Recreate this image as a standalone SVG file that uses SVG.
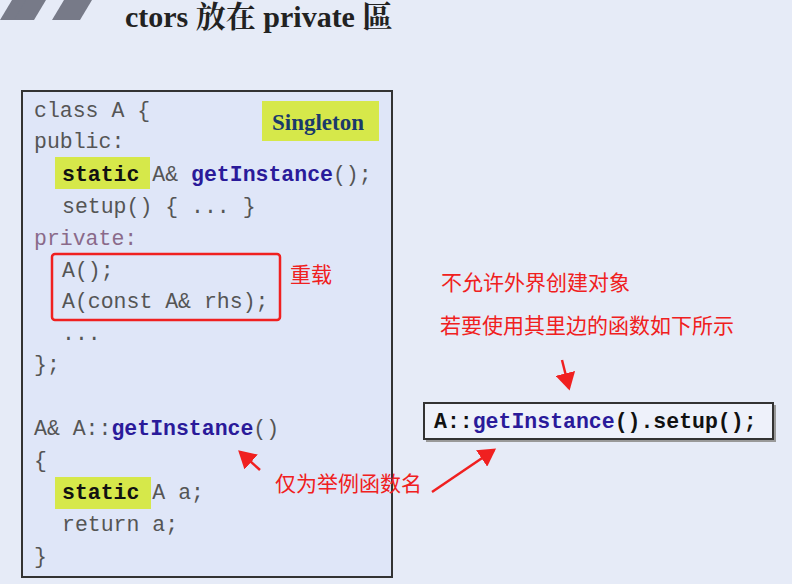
<svg xmlns="http://www.w3.org/2000/svg" width="792" height="584" viewBox="0 0 792 584">
<style>
.c{font-family:"Liberation Mono",monospace;font-size:21.5px;fill:#555}
.b{font-weight:bold;fill:#111}
.f{font-weight:bold;fill:#2a1a9a}
.p{fill:#8a6a8a}
.r{font-family:"Noto Sans CJK SC",sans-serif;fill:#f02020;font-size:21px}
.hl{fill:#d6e84a}
.arr{stroke:#f02020;stroke-width:2.5;fill:none;marker-end:url(#ah)}
</style>
<defs><marker id="ah" markerWidth="8" markerHeight="8" refX="6" refY="4" orient="auto" markerUnits="strokeWidth"><path d="M0,0 L7,4 L0,8 Z" fill="#f02020"/></marker></defs>
<rect width="792" height="584" fill="#e6ebf7"/>
<g id="stripes" fill="#777a88"><polygon points="0,20 12,0 40,0 28,20"/><polygon points="14,20 26,0 46,0 34,20"/><polygon points="52,20 64,0 92,0 80,20"/></g>
<text x="125" y="27" font-family="Liberation Serif,Noto Serif CJK SC,Noto Sans CJK TC,serif" font-weight="bold" font-size="30" fill="#222">ctors 放在 private 區</text>
<g id="code">
<rect x="22" y="91" width="370" height="486" fill="#dfe6f8" stroke="#333" stroke-width="2"/>
<rect x="262" y="101" width="117" height="40" class="hl"/>
<text x="272" y="130" font-family="Liberation Serif,serif" font-weight="bold" font-size="23" fill="#1a3a6a">Singleton</text>
<rect x="55" y="157" width="95" height="32" class="hl"/>
<rect x="55" y="477" width="96" height="32" class="hl"/>
<text class="c" x="34" y="117">class A {</text>
<text class="c" x="34" y="148">public:</text>
<text class="c" x="62" y="181"><tspan class="b">static</tspan> A&amp; <tspan class="f">getInstance</tspan>();</text>
<text class="c" x="62" y="213">setup() { ... }</text>
<text class="c p" x="34" y="245">private:</text>
<text class="c" x="62" y="277">A();</text>
<text class="c" x="62" y="308">A(const A&amp; rhs);</text>
<text class="c" x="62" y="340">...</text>
<text class="c" x="34" y="371">};</text>
<text class="c" x="34" y="435">A&amp; A::<tspan class="f">getInstance</tspan>()</text>
<text class="c" x="34" y="467">{</text>
<text class="c" x="62" y="499"><tspan class="b">static</tspan> A a;</text>
<text class="c" x="62" y="531">return a;</text>
<text class="c" x="34" y="563">}</text>
<rect x="52" y="254" width="228" height="66" rx="3" fill="none" stroke="#f02020" stroke-width="2.5"/>
</g>
<g id="call">
<rect x="426" y="405" width="350" height="37" fill="#999"/>
<rect x="424" y="403" width="349" height="36" fill="#eef1fa" stroke="#333" stroke-width="2"/>
<text class="c b" x="434" y="428" font-size="20.5"><tspan>A::</tspan><tspan class="f">getInstance</tspan><tspan>().setup();</tspan></text>
</g>
<g id="notes">
<text class="r" x="290" y="282">重载</text>
<text class="r" x="441" y="290">不允许外界创建对象</text>
<text class="r" x="440" y="333">若要使用其里边的函数如下所示</text>
<text class="r" x="275" y="491">仅为举例函数名</text>
</g>
<g id="connectors">
<path class="arr" d="M562,360 L569,388"/>
<path class="arr" d="M260,470 L240,452"/>
<path class="arr" d="M432,492 L494,450"/>
</g>
</svg>
